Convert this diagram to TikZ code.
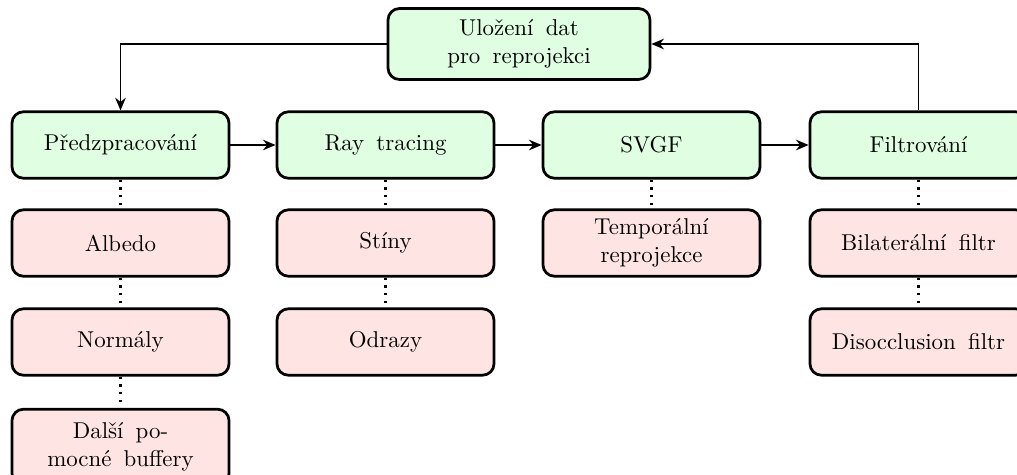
\documentclass[tikz,border=0pt]{standalone}
\usepackage{fontspec}
\setmainfont[WordSpace=1.6]{Latin Modern Roman}
\usetikzlibrary{arrows.meta}
\definecolor{stagegreen}{RGB}{224,255,226}
\definecolor{partred}{RGB}{255,228,228}
\tikzset{
  box/.style={draw, line width=1.2pt, rounded corners=5pt, align=center,
    minimum width=94.8pt, minimum height=29pt, inner sep=2pt},
  stage/.style={box, fill=stagegreen},
  part/.style={box, fill=partred},
  flow/.style={line width=0.85pt, -{Stealth[length=5.5pt,width=4.6pt]}},
  link/.style={line width=1pt, dash pattern=on 1pt off 2.4pt},
}
\begin{document}
\begin{tikzpicture}[x=0.4367pt, y=-0.4367pt]
\useasboundingbox (0,0) rectangle (1017,475);
\clip (0,0) rectangle (1017,475);
% storage for reprojection
\node[stage, minimum width=114.4pt, minimum height=31pt] (store) at (519,44) {Uložení dat\\pro reprojekci};
% pipeline stages
\node[stage] (pre) at (120.5,145) {Předzpracování};
\node[stage] (ray) at (385.5,145) {Ray tracing};
\node[stage] (svgf) at (651.5,145) {SVGF};
\node[stage] (filt) at (918.5,145) {Filtrování};
% sub-steps
\node[part] (albedo) at (120.5,243) {Albedo};
\node[part] (normals) at (120.5,342) {Normály};
\node[part, minimum height=33pt] (buffers) at (120.5,447) {Další po-\\mocné buffery};
\node[part] (shadows) at (385.5,243) {Stíny};
\node[part] (refl) at (385.5,342) {Odrazy};
\node[part] (temporal) at (651.5,243) {Temporální\\reprojekce};
\node[part] (bilat) at (918.5,243) {Bilaterální filtr};
\node[part] (disocc) at (918.5,342) {Disocclusion filtr};
% main flow
\draw[flow] (pre) -- (ray);
\draw[flow] (ray) -- (svgf);
\draw[flow] (svgf) -- (filt);
\draw[flow] (store.west) -| (pre.north);
\draw[flow] (filt.north) |- (store.east);
% sub-step links
\draw[link] (pre) -- (albedo);
\draw[link] (albedo) -- (normals);
\draw[link] (normals) -- (buffers);
\draw[link] (ray) -- (shadows);
\draw[link] (shadows) -- (refl);
\draw[link] (svgf) -- (temporal);
\draw[link] (filt) -- (bilat);
\draw[link] (bilat) -- (disocc);
\end{tikzpicture}
\end{document}
